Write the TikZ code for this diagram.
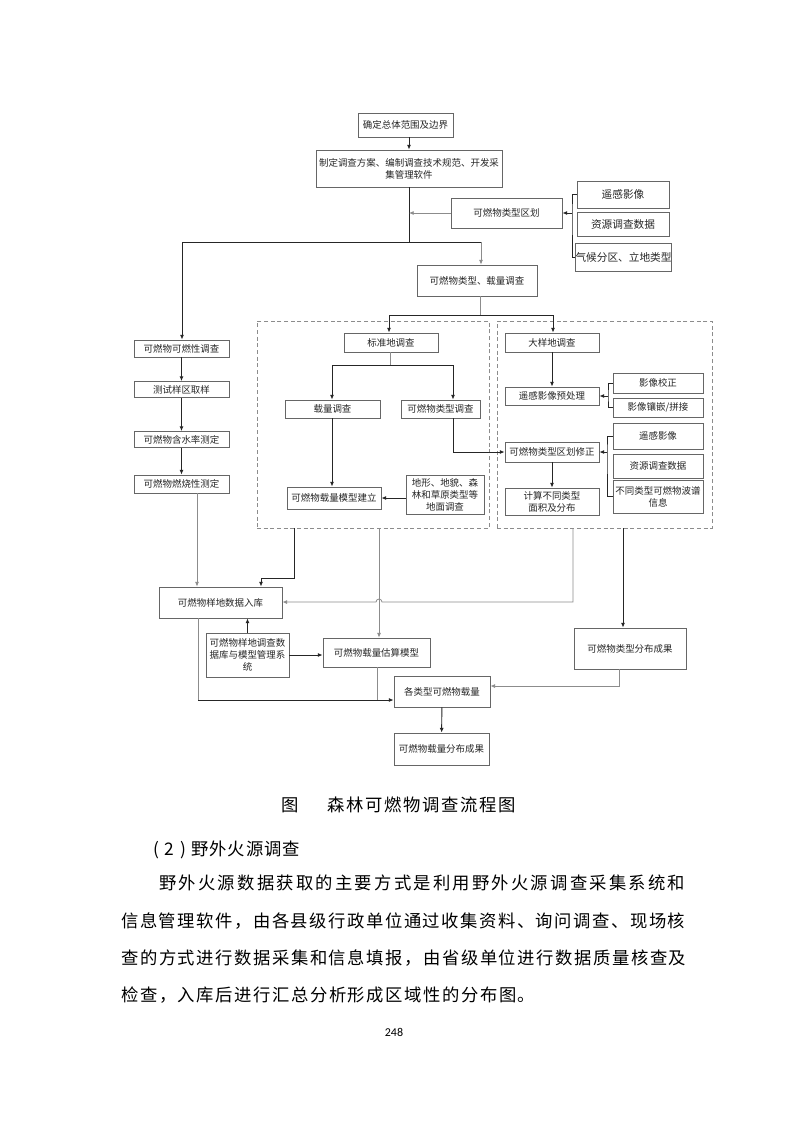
\documentclass[tikz,border=0pt]{standalone}
\usepackage{fontspec}
\setmainfont{Noto Sans CJK SC}
\newfontfamily\numfont{Carlito}
\usetikzlibrary{arrows.meta}
\def\spreadA#1{#1\spreadB}
\def\spreadB#1{\ifx#1\relax\else\hfil#1\expandafter\spreadB\fi}
\newcommand\spreadto[2]{\hbox to #1{\spreadA#2\relax}}
\newcommand\mybox[6]{\node[box,minimum width=#4*0.75pt,minimum height=#5*0.75pt] (#1) at (#2,#3) {#6};}
\begin{document}
\begin{tikzpicture}[x=0.75pt,y=-0.75pt,
  box/.style={draw=black!60,line width=0.6pt,fill=white,inner sep=0pt,align=center,
    font=\fontsize{7.1pt}{9pt}\selectfont,text=black!85},
  dk/.style={draw=black!85,line width=0.7pt},
  gr/.style={draw=black!45,line width=0.6pt},
  arr/.style={-{Latex[length=3.5pt,width=3pt]}},
  dashbox/.style={draw=black!45,dash pattern=on 3pt off 2pt,line width=0.7pt,inner sep=0pt},
  txt/.style={inner sep=0pt,font=\fontsize{13pt}{15pt}\selectfont,text=black}]
\useasboundingbox (0,0) rectangle (793,1122);
\fill[white] (0,0) rectangle (793,1122);

% dashed groups
\node[dashbox,minimum width=232*0.75pt,minimum height=207*0.75pt] (D1) at (373,424.5) {};
\node[dashbox,minimum width=215*0.75pt,minimum height=207*0.75pt] (D2) at (604.5,424.5) {};

% top
\mybox{n1}{405.5}{125}{95}{24}{确定总体范围及边界}
\mybox{n2}{409}{168.5}{186}{37}{制定调查方案、编制调查技术规范、开发采\\集管理软件}
\mybox{n3}{506.5}{213}{111}{30}{可燃物类型区划}
\node[box,font=\fontsize{8pt}{9pt}\selectfont,minimum width=92*0.75pt,minimum height=27*0.75pt] (r1) at (623,194.5) {遥感影像};
\node[box,font=\fontsize{8pt}{9pt}\selectfont,minimum width=92*0.75pt,minimum height=24*0.75pt] (r2) at (623,224) {资源调查数据};
\node[box,font=\fontsize{8pt}{9pt}\selectfont,minimum width=93*0.75pt,minimum height=28*0.75pt] (r3) at (623.5,257) {气候分区、立地类型};
\mybox{n5}{477}{280.5}{120}{31}{可燃物类型、载量调查}

% left column
\mybox{L1}{181.5}{348.5}{95}{17}{可燃物可燃性调查}
\mybox{L2}{181.5}{389.5}{95}{16}{测试样区取样}
\mybox{L3}{181.5}{439.5}{95}{16}{可燃物含水率测定}
\mybox{L4}{181.5}{484}{95}{18}{可燃物燃烧性测定}

% standard plot group
\mybox{S1}{391}{342.5}{94}{19}{标准地调查}
\mybox{S2}{332.5}{409}{95}{18}{载量调查}
\mybox{S3}{440.5}{409}{79}{18}{可燃物类型调查}
\mybox{S4}{334}{498}{94}{22}{可燃物载量模型建立}
\mybox{S5}{445}{494.5}{78}{39}{地形、地貌、森\\林和草原类型等\\地面调查}

% large plot group
\mybox{B1}{552}{342.5}{94}{19}{大样地调查}
\mybox{B2}{552}{396}{94}{18}{遥感影像预处理}
\mybox{B3}{552}{452}{94}{20}{可燃物类型区划修正}
\mybox{B4}{552}{501.5}{94}{27}{计算不同类型\\面积及分布}
\mybox{P1}{658}{383}{90}{20}{影像校正}
\mybox{P2}{658}{407.5}{90}{19}{影像镶嵌/拼接}
\mybox{Q1}{658}{436}{90}{26}{遥感影像}
\mybox{Q2}{658}{466}{90}{24}{资源调查数据}
\mybox{Q3}{658}{496.5}{90}{33}{不同类型可燃物波谱\\信息}

% bottom
\mybox{M1}{220.5}{602.5}{123}{31}{可燃物样地数据入库}
\mybox{M2}{247.5}{655}{83}{44}{可燃物样地调查数\\据库与模型管理系\\统}
\mybox{M3}{376.5}{652.5}{107}{29}{可燃物载量估算模型}
\mybox{M4}{630}{648.5}{112}{41}{可燃物类型分布成果}
\mybox{M5}{442}{691.5}{96}{31}{各类型可燃物载量}
\mybox{M6}{441.5}{749}{95}{32}{可燃物载量分布成果}

% connectors top
\draw[dk,arr] (n1.south -| n2.north) -- (n2.north);
\coordinate (t1) at (409,242);
\draw[dk] (n2.south) -- (t1);
\draw[gr,arr] (n3.west) -- (n3.west -| t1);
\coordinate (brx) at (572,213);
\draw[dk] (r1.west) -| (brx) |- (r3.west);
\draw[dk,arr] (brx) -- (n3.east);
\coordinate (hl) at (182,242);
\coordinate (hr) at (481,242);
\draw[dk] (hl) -- (hr);
\draw[dk,arr] (hl) -- (hl |- L1.north);
\draw[gr,arr] (hr) -- (hr |- n5.north);
\coordinate (j1) at (480,315);
\coordinate (ja) at (389,315);
\coordinate (jb) at (553,315);
\draw[gr] (n5.south -| j1) -- (j1);
\draw[dk] (ja) -- (jb);
\draw[dk,arr] (ja) -- (ja |- S1.north);
\draw[dk,arr] (jb) -- (jb |- B1.north);
\coordinate (k1) at (390,365);
\coordinate (ka) at (332,365);
\coordinate (kb) at (453,365);
\draw[gr] (S1.south -| k1) -- (k1);
\draw[dk] (ka) -- (kb);
\draw[dk,arr] (ka) -- (ka |- S2.north);
\draw[dk,arr] (kb) -- (kb |- S3.north);
\draw[dk,arr] (S2.south -| ka) -- (S4.north -| ka);
\draw[dk,arr] (S5.west |- S4.east) -- (S4.east);
\draw[dk,arr] (S3.south -| kb) |- (B3.west);
\draw[dk,arr] (B1) -- (B2);
\draw[dk,arr] (B3) -- (B4);
\coordinate (pbx) at (608,396);
\draw[dk] (P1.west) -| (pbx) |- (P2.west);
\draw[dk,arr] (pbx) -- (B2.east);
\coordinate (qbx) at (607,452);
\draw[dk] (Q1.west) -| (qbx) |- (Q3.west);
\draw[dk,arr] (qbx) -- (B3.east);
\draw[dk,arr] (L1) -- (L2);
\draw[dk,arr] (L2) -- (L3);
\draw[dk,arr] (L3) -- (L4);

% connectors bottom
\coordinate (xa) at (197,0);
\draw[gr,arr] (L4.south -| xa) -- (M1.north -| xa);
\coordinate (d1a) at (294,578);
\coordinate (d1c) at (261,578);
\draw[dk,arr] (D1.south -| d1a) -- (d1a) -- (d1c) -- (M1.north -| d1c);
\coordinate (xb) at (379,0);
\draw[gr,arr] (D1.south -| xb) -- (M3.north -| xb);
\coordinate (d2a) at (573,602);
\draw[gr,arr] (D2.south -| d2a) -- (d2a) -- (382,602) arc[start angle=0,end angle=180,radius=2.25pt] -- (d2a -| M1.east);
\coordinate (xd) at (623,0);
\draw[dk,arr] (D2.south -| xd) -- (M4.north -| xd);
\draw[dk,arr] (M2.north) -- (M2.north |- M1.south);
\draw[dk,arr] (M2.east) -- (M2.east -| M3.west);
\coordinate (m45) at (619,686);
\draw[gr,arr] (M4.south -| m45) -- (m45) -- (m45 -| M5.east);
\coordinate (m15) at (198,700);
\draw[gr] (M1.south -| m15) -- (m15);
\draw[dk,arr] (m15) -- (m15 -| M5.west);
\coordinate (xm3) at (377,0);
\draw[gr] (M3.south -| xm3) -- (xm3 |- m15);
\draw[dk,arr] (M5) -- (M6);

% text
\node[txt] (cap1) at (290,805) {图};
\node[txt,anchor=west] (cap2) at (327,805) {\spreadto{141.75pt}{森林可燃物调查流程图}};
\node[txt,anchor=west] (h2) at (153,850) {\hbox to 28.5pt{(\hfil 2\hfil )\hskip 4pt}\spreadto{81.75pt}{野外火源调查}};
\node[txt,anchor=west] (p1) at (159,883) {\spreadto{394.5pt}{野外火源数据获取的主要方式是利用野外火源调查采集系统和}};
\node[txt,anchor=west] (p2) at (121,921) {\spreadto{423pt}{信息管理软件，由各县级行政单位通过收集资料、询问调查、现场核}};
\node[txt,anchor=west] (p3) at (121,958) {\spreadto{423.75pt}{查的方式进行数据采集和信息填报，由省级单位进行数据质量核查及}};
\node[txt,anchor=west] (p4) at (121,995) {\spreadto{310.5pt}{检查，入库后进行汇总分析形成区域性的分布图。}};
\node[inner sep=0pt,font=\numfont\fontsize{9pt}{10pt}\selectfont] (pg) at (394,1032) {248};
\end{tikzpicture}
\end{document}
